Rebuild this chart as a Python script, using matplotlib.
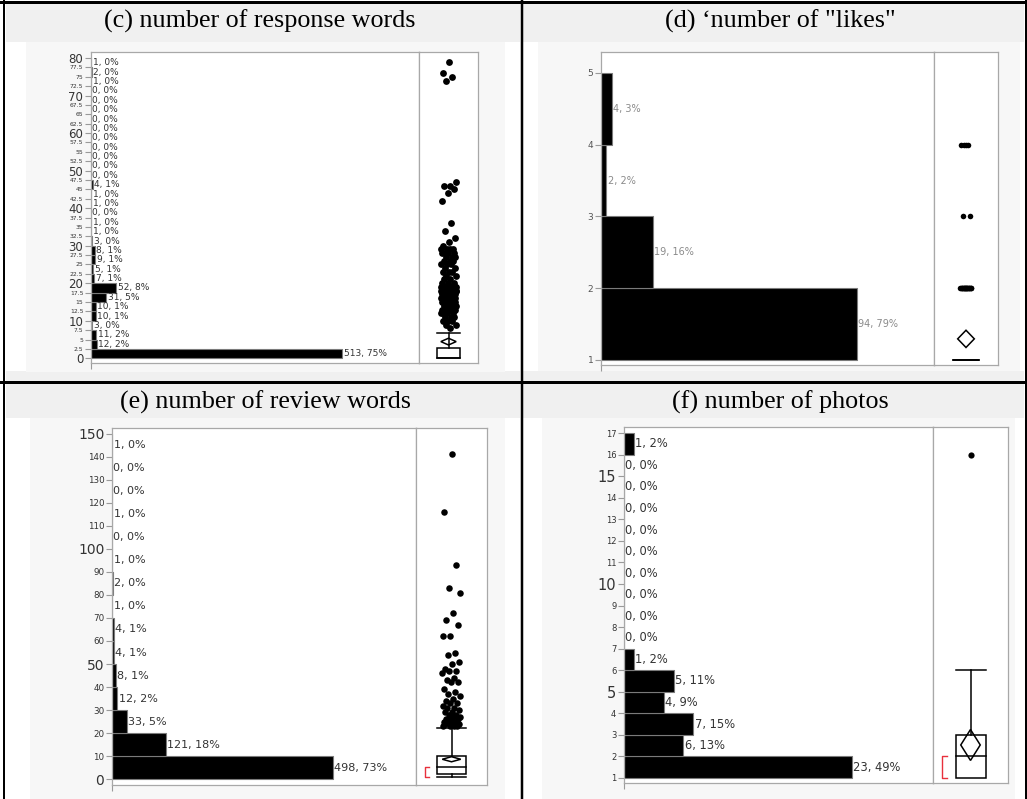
import numpy as np
import matplotlib.pyplot as plt
from matplotlib.patches import Rectangle, Polygon
from matplotlib.lines import Line2D

W, H = 1027, 799

# (c) number of response words, bins of 2.5 starting at 0 (bottom to top)
c_counts = [513, 12, 11, 3, 10, 10, 31, 52, 7, 5, 9, 8, 3, 1, 1, 0, 1, 1, 4,
            0, 0, 0, 0, 0, 0, 0, 0, 0, 0, 1, 2, 1]
c_dot_vals = [79, 76, 75, 74, 47, 46, 45, 44, 42, 36, 34, 32, 31, 30,
              29, 28, 27, 26, 25, 24, 23, 22, 21, 20,
              19, 18, 17, 16, 15, 14, 13, 12, 11, 10, 9, 8]
c_dot_counts = [1, 1, 1, 1, 1, 2, 1, 1, 1, 1, 1, 1, 1, 1,
                4, 4, 3, 3, 3, 2, 3, 2, 2, 3,
                26, 26, 10, 11, 10, 5, 5, 4, 3, 3, 2, 1]
# q1, median, q3, lower whisker, upper whisker, mean, mean CI half-width
c_box = [0, 0, 2.7, 0, 6.8, 4.45, 0.9]

# (d) number of "likes", bins of 1 starting at 1
d_counts = [94, 19, 2, 4]

# (e) number of review words, bins of 10 starting at 0
e_counts = [498, 121, 33, 12, 8, 4, 4, 1, 2, 1, 0, 1, 0, 0, 1]
e_dot_vals = [141, 116, 93, 83, 81, 72, 69, 67, 62, 55, 54, 51, 50,
              48, 47, 46, 44, 43, 42, 39, 38, 37, 36, 35, 34, 33, 32, 31, 30,
              29, 28, 27, 26, 25, 24, 23]
e_dot_counts = [1, 1, 1, 1, 1, 1, 1, 1, 2, 1, 1, 1, 1,
                1, 2, 1, 1, 1, 2, 1, 1, 1, 1, 1, 1, 2, 1, 2, 1,
                2, 2, 2, 3, 3, 3, 4]
e_box = [2.3, 5.5, 10.1, 1.1, 22.2, 8.7, 1.1]
e_half = (1.1, 5.5)

# (f) number of photos, bins of 1 starting at 1
f_counts = [23, 6, 7, 4, 5, 1, 0, 0, 0, 0, 0, 0, 0, 0, 0, 1]
f_half = (1, 2)

titles = ['(c) number of response words', '(d) \u2018number of "likes"',
          '(e) number of review words', '(f) number of photos']

plt.rcParams['font.family'] = ['DejaVu Sans']
fig = plt.figure(figsize=(W / 100, H / 100), dpi=100)


def px(x0, y0, x1, y1):
    return [x0 / W, 1 - y1 / H, (x1 - x0) / W, (y1 - y0) / H]


def bg(x0, y0, x1, y1, color):
    fig.add_artist(Rectangle((x0 / W, 1 - y1 / H), (x1 - x0) / W, (y1 - y0) / H,
                             transform=fig.transFigure, facecolor=color,
                             edgecolor='none', zorder=-2))


def rule(x0, y0, x1, y1, lw):
    fig.add_artist(Line2D([x0 / W, x1 / W], [1 - y0 / H, 1 - y1 / H],
                          transform=fig.transFigure, color='black',
                          lw=lw * 0.72, zorder=10))


def style(ax):
    for s in ax.spines.values():
        s.set_color('#a8a8a8')
        s.set_linewidth(0.9)
    ax.set_facecolor('white')


def draw_hist(rect, start, width, counts, xmax, ylim, ticks, big, fs_big, fs_small,
              lab_fs, lab_color='#333333', tick_color='#333333'):
    ax = fig.add_axes(rect)
    style(ax)
    total = sum(counts)
    bottoms = start + width * np.arange(len(counts))
    ax.barh(bottoms, counts, height=width, align='edge', color='black',
            edgecolor='#7a7a7a', linewidth=0.8)
    for b, n in zip(bottoms, counts):
        ax.annotate(f'{n}, {round(100 * n / total)}%', (n, b + width / 2),
                    xytext=(1, 0), textcoords='offset points', ha='left',
                    va='center', fontsize=lab_fs, color=lab_color)
    ax.set_xlim(0, xmax)
    ax.set_ylim(*ylim)
    ax.set_yticks(ticks, [f'{t:g}' for t in ticks])
    for t, lab in zip(ticks, ax.get_yticklabels()):
        lab.set_fontsize(fs_big if t in big else fs_small)
    ax.tick_params(axis='y', length=4, width=0.8, color='#9a9a9a', pad=1.5,
                   labelcolor=tick_color)
    ax.set_xticks([0], [''])
    ax.tick_params(axis='x', length=4, width=0.8, color='#9a9a9a')
    return ax


def draw_box(rect, ylim, box, dots, jw, half=None, ms=20):
    q1, med, q3, lo, hi, mean, ci = box
    ax = fig.add_axes(rect)
    style(ax)
    ax.set_xlim(0, 1)
    ax.set_ylim(*ylim)
    ax.set_xticks([])
    ax.set_yticks([])
    # jittered outliers
    j = (np.arange(len(dots)) * 0.618034 + 0.5) % 1 - 0.5
    ax.scatter(0.5 + 2 * jw * j, dots, s=ms, color='black', linewidths=0, zorder=3)
    ax.add_patch(Rectangle((0.3, q1), 0.4, q3 - q1, fill=False,
                           edgecolor='black', lw=1.1))
    ax.plot([0.3, 0.7], [med, med], color='black', lw=1.1)
    ax.plot([0.5, 0.5], [q3, hi], color='black', lw=1.1)
    ax.plot([0.3, 0.7], [hi, hi], color='black', lw=1.1)
    if lo < q1:
        ax.plot([0.5, 0.5], [lo, q1], color='black', lw=1.1)
        ax.plot([0.3, 0.7], [lo, lo], color='black', lw=1.1)
    dw = 0.13
    ax.add_patch(Polygon([(0.5, mean - ci), (0.5 + dw, mean), (0.5, mean + ci),
                          (0.5 - dw, mean)], closed=True, fill=False,
                         edgecolor='black', lw=1.1))
    if half is not None:
        ax.plot([0.19, 0.12, 0.12, 0.19], [half[1], half[1], half[0], half[0]],
                color='#e8303c', lw=1)
    return ax


def binned_stats(start, counts):
    vals = np.repeat(start + np.arange(len(counts)), counts).astype(float)
    q1, med, q3 = np.percentile(vals, [25, 50, 75])
    fence = q3 + 1.5 * (q3 - q1)
    inside = vals[vals <= fence]
    out = vals[vals > fence]
    ci = 1.96 * vals.std(ddof=1) / np.sqrt(len(vals))
    return [q1, med, q3, inside.min(), inside.max(), vals.mean(), ci], out


# backgrounds of the table cells
for x0, x1 in [(6, 520), (523, 1024)]:
    bg(x0, 4, x1, 42, '#f0f0f0')
    bg(x0, 371, x1, 381, '#f0f0f0')
    bg(x0, 384, x1, 418, '#f0f0f0')
bg(26, 42, 505, 372, '#f7f7f7')
bg(538, 42, 1020, 371, '#f7f7f7')
bg(30, 418, 505, 799, '#f7f7f7')
bg(542, 418, 1015, 799, '#f7f7f7')

for (x, y), t in zip([(260, 21), (780, 21), (265, 402), (780, 402)], titles):
    fig.text(x / W, 1 - y / H, t, ha='center', va='center',
             family='Liberation Serif', fontsize=18.8)

# (c)
c_ticks = list(np.arange(0, 80.1, 2.5))
c_ylim = (-1.25, 81.6)
draw_hist(px(91, 52, 419, 363), 0, 2.5, c_counts, 670, c_ylim, c_ticks,
          [0, 10, 20, 30, 40, 50, 60, 70, 80], 8.5, 4.3, 6.5)
draw_box(px(419, 52, 478, 363), c_ylim, c_box,
         np.repeat(c_dot_vals, c_dot_counts), 0.13, ms=24)

# (d)
d_ylim = (0.93, 5.29)
draw_hist(px(601, 52, 934, 365), 1, 1, d_counts, 122.4, d_ylim, [1, 2, 3, 4, 5],
          [], 6.5, 6.5, 7, lab_color='#8a8a8a', tick_color='#555555')
d_box, d_out = binned_stats(1, d_counts)
draw_box(px(934, 52, 998, 365), d_ylim, d_box, d_out, 0.09, ms=16)

# (e)
e_ticks = list(range(0, 151, 10))
e_ylim = (-2.47, 152.4)
draw_hist(px(112, 428, 416, 785), 0, 10, e_counts, 685, e_ylim, e_ticks,
          [0, 50, 100, 150], 10, 6.3, 8)
draw_box(px(416, 428, 487, 785), e_ylim, e_box,
         np.repeat(e_dot_vals, e_dot_counts), 0.13, e_half, ms=22)

# (f)
f_ticks = list(range(1, 18))
f_ylim = (0.768, 17.28)
draw_hist(px(624, 427, 933, 783), 1, 1, f_counts, 31.2, f_ylim, f_ticks,
          [5, 10, 15], 10.5, 6, 8.3)
f_box, f_out = binned_stats(1, f_counts)
draw_box(px(933, 427, 1008, 783), f_ylim, f_box, f_out, 0.12, f_half)

# table rules
rule(0, 1.5, W, 1.5, 3)
rule(4, 0, 4, H, 2)
rule(521.5, 0, 521.5, H, 2.5)
rule(1025.5, 0, 1025.5, H, 2)
rule(0, 382, W, 382, 3)

fig.savefig('out.png', dpi=100)
